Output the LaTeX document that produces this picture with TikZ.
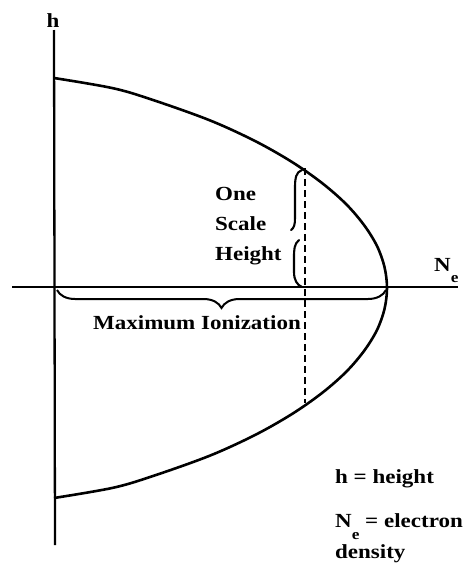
\documentclass[tikz,border=0pt]{standalone}
\usepackage{fontspec}
\setmainfont{Liberation Serif}[FakeStretch=1.15]
\usetikzlibrary{decorations.pathreplacing}
\tikzset{
  lab/.style={font=\bfseries\fontsize{20}{22}\selectfont, inner sep=0pt, text=black},
  axisline/.style={line width=2.3pt},
  curveline/.style={line width=2.6pt, line join=round},
  dashline/.style={line width=2.2pt, dash pattern=on 7pt off 4pt},
  bracestyle/.style={line width=2pt, decorate, decoration={brace, mirror, amplitude=18pt}}
}
\begin{document}
\begin{tikzpicture}[x=1pt,y=-1pt]
\useasboundingbox (0,0) rectangle (475,573);
% axes
\coordinate (vtop) at (54,30);
\coordinate (vbot) at (55,545);
\coordinate (hl) at (12,287);
\coordinate (hr) at (458,287);
\draw[axisline] (vtop) -- (vbot);
\draw[axisline] (hl) -- (hr);
\node[lab, anchor=base] (hlab) at (53,27) {h};
\node[lab, anchor=base west] (nelab) at (434,271) {N\raisebox{-0.55em}{\fontsize{15}{15}\selectfont e}};
% profile curve
\coordinate (ctop) at (54,78);
\coordinate (cvert) at (387,288);
\coordinate (cbot) at (54,498);
\draw[curveline] plot[smooth, tension=0.55] coordinates {
 (54,78) (112,88) (150,99) (209,120) (255,141) (292,162) (322,183) (346,204) (364,225) (377,246) (384.5,267) (387,288)
 (384.5,309) (377,330) (364,351) (346,372) (322,393) (292,414) (255,435) (209,456) (150,477) (112,488) (54,498)};
% dashed line
\coordinate (dtop) at (305,168);
\coordinate (dbot) at (305,403);
\draw[dashline] (dtop) -- (dbot);
% one scale height brace (split)
\draw[line width=2.1pt, line cap=round] (302,170) .. controls (296,172) and (295,178) .. (295,188)
   -- (295,218) .. controls (295,225) and (294,228) .. (291,230);
\draw[line width=2.1pt, line cap=round] (299,240) .. controls (294,244) and (294,250) .. (294,258)
   -- (294,272) .. controls (294,280) and (297,285) .. (302,287);
\node[lab, anchor=base west] (one) at (215,200) {One};
\node[lab, anchor=base west] (scale) at (215,230) {Scale};
\node[lab, anchor=base west] (height) at (215,260) {Height};
% maximum ionization brace
\coordinate (bl) at (57,290);
\coordinate (br) at (386,290);
\draw[bracestyle] (bl) -- (br);
\node[lab, anchor=base] (maxion) at (197,329) {Maximum Ionization};
% legend
\node[lab, anchor=base west] (leg1) at (335,483) {h = height};
\node[lab, anchor=base west] (leg2) at (335,527) {N\raisebox{-0.6em}{\fontsize{15}{15}\selectfont e} = electron};
\node[lab, anchor=base west] (leg3) at (335,558) {density};
\end{tikzpicture}
\end{document}
